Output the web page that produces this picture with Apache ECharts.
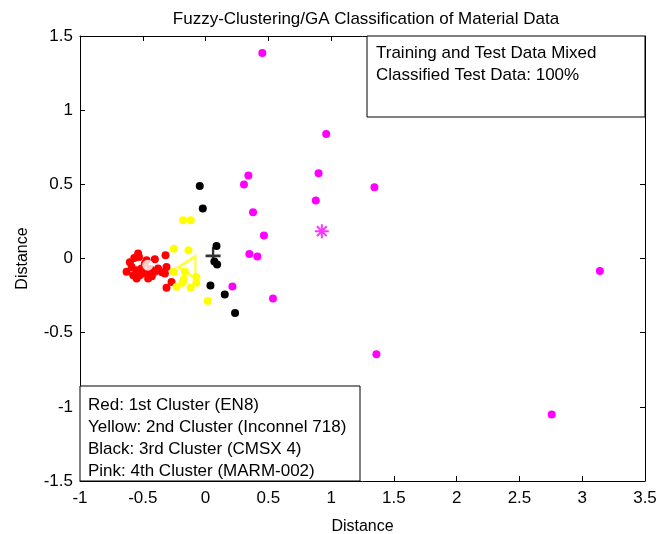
<!DOCTYPE html>
<html><head><meta charset="utf-8">
<script src="https://cdn.jsdelivr.net/npm/echarts@6/dist/echarts.min.js"></script>
<style>html,body{margin:0;padding:0;background:#fff}#c{width:659px;height:534px}</style>
</head><body><div id="c"></div>
<script>
var xTicks = [-1, -0.5, 0, 0.5, 1, 1.5, 2, 2.5, 3, 3.5];
var yTicks = [-1.5, -1, -0.5, 0, 0.5, 1, 1.5];
var redPoints = [
  [-0.537,0.034],[-0.568,0.004],[-0.470,-0.011],[-0.404,-0.005],[-0.319,0.022],
  [-0.629,-0.090],[-0.589,-0.057],[-0.576,-0.113],[-0.549,-0.135],[-0.510,-0.067],
  [-0.483,-0.034],[-0.457,-0.101],[-0.457,-0.135],[-0.404,-0.090],[-0.378,-0.067],
  [-0.348,-0.092],[-0.311,-0.057],[-0.324,-0.101],[-0.271,-0.158],[-0.311,-0.198],
  [-0.523,-0.113],[-0.428,-0.119],[-0.603,-0.025],[-0.55,-0.08],[-0.50,-0.10],
  [-0.44,-0.07],[-0.53,0.01]
];
var redCentre = [[-0.46,-0.045]];
var yellowPoints = [
  [-0.179,0.258],[-0.118,0.258],[-0.253,0.065],[-0.136,0.056],[-0.253,-0.090],
  [-0.165,-0.090],[-0.073,-0.124],[-0.073,-0.164],[-0.173,-0.142],[-0.184,-0.164],
  [-0.231,-0.191],[-0.118,-0.198],[0.017,-0.286]
];
var yellowCentre = [[-0.149,-0.059]];
var blackPoints = [
  [-0.046,0.488],[-0.022,0.337],[0.087,0.085],[0.092,-0.040],[0.07,-0.02],
  [0.039,-0.182],[0.153,-0.243],[0.235,-0.367]
];
var blackCentre = [[0.06,0.018]];
var pinkPoints = [
  [0.452,1.386],[0.961,0.840],[0.341,0.560],[0.306,0.499],[0.900,0.575],
  [1.345,0.481],[0.878,0.391],[0.378,0.312],[0.465,0.155],[0.349,0.031],
  [0.413,0.013],[0.214,-0.189],[0.537,-0.270],[3.141,-0.084],[2.757,-1.052],
  [1.361,-0.645]
];
var pinkCentre = [[0.926,0.184]];
var titleText = 'Fuzzy-Clustering/GA Classification of Material Data';
var infoLines = ['Training and Test Data Mixed', 'Classified Test Data: 100%'];
var legendLines = ['Red: 1st Cluster (EN8)', 'Yellow: 2nd Cluster (Inconnel 718)', 'Black: 3rd Cluster (CMSX 4)', 'Pink: 4th Cluster (MARM-002)'];

var FONT = 'Liberation Sans, Arial, sans-serif';
var chart = echarts.init(document.getElementById('c'), null, {renderer: 'canvas'});
var L = 80, R = 645, T = 36, B = 481;
function axisBase(extra) {
  return Object.assign({
    type: 'value',
    axisLine: {show: true, onZero: false, lineStyle: {color: '#000', width: 1}},
    axisTick: {show: true, inside: true, length: 5, lineStyle: {color: '#000'}},
    splitLine: {show: false},
    axisLabel: {color: '#000', fontSize: 16, fontFamily: FONT}
  }, extra);
}
var dot = function (name, data, color) {
  return {type: 'scatter', name: name, data: data, symbol: 'circle', symbolSize: 8,
    itemStyle: {color: color, opacity: 1}, z: 3};
};
chart.setOption({
  animation: false,
  backgroundColor: '#fff',
  title: {text: titleText, left: 361, top: 6, textAlign: 'center',
    textStyle: {fontSize: 17, fontWeight: 'normal', color: '#000', fontFamily: FONT}},
  grid: {left: L, right: 659 - R, top: T, bottom: 534 - B, containLabel: false, outerBoundsMode: 'none'},
  xAxis: [
    axisBase({min: xTicks[0], max: xTicks[xTicks.length - 1], interval: 0.5, position: 'bottom',
      name: 'Distance', nameLocation: 'middle', nameGap: 38,
      nameTextStyle: {color: '#000', fontSize: 16, fontFamily: FONT},
      axisLabel: {color: '#000', fontSize: 17, fontFamily: FONT, margin: 9}}),
    axisBase({min: xTicks[0], max: xTicks[xTicks.length - 1], interval: 0.5, position: 'top',
      axisLabel: {show: false}})
  ],
  yAxis: [
    axisBase({min: yTicks[0], max: yTicks[yTicks.length - 1], interval: 0.5, position: 'left',
      name: 'Distance', nameLocation: 'middle', nameGap: 49, nameRotate: 90,
      nameTextStyle: {color: '#000', fontSize: 16, fontFamily: FONT},
      axisLabel: {color: '#000', fontSize: 17, fontFamily: FONT, margin: 7}}),
    axisBase({min: yTicks[0], max: yTicks[yTicks.length - 1], interval: 0.5, position: 'right',
      axisLabel: {show: false}})
  ],
  series: [
    dot('red', redPoints, '#ff0000'),
    {type: 'scatter', data: redCentre, symbol: 'emptyCircle', symbolSize: 11,
      itemStyle: {color: 'rgba(0,0,0,0)', borderColor: '#ff0000', borderWidth: 2.5}, z: 4},
    dot('yellow', yellowPoints, '#ffff00'),
    {type: 'scatter', data: yellowCentre, symbol: 'path://M0,10 L16,0 L16,20 Z', symbolSize: [17, 22],
      itemStyle: {color: 'rgba(0,0,0,0)', borderColor: '#ffff00', borderWidth: 2.5}, z: 4},
    dot('black', blackPoints, '#000000'),
    {type: 'scatter', data: blackCentre, symbol: 'path://M10,0 L10,20 M0,10 L20,10', symbolSize: [15, 17],
      itemStyle: {color: 'rgba(0,0,0,0)', borderColor: '#000', borderWidth: 2.5}, z: 4},
    dot('pink', pinkPoints, '#ff00ff'),
    {type: 'scatter', data: pinkCentre, symbol: 'path://M10,0 L10,20 M0,10 L20,10 M3,3 L17,17 M3,17 L17,3', symbolSize: 14,
      itemStyle: {color: 'rgba(0,0,0,0)', borderColor: '#ff00ff', borderWidth: 2}, z: 4}
  ],
  graphic: [
    {type: 'rect', shape: {x: 367, y: T, width: R - 367, height: 117 - T},
      style: {fill: '#fff', stroke: '#000', lineWidth: 1}, z: 10},
    {type: 'text', x: 376, y: 42, z: 11,
      style: {text: infoLines.join('\n'), font: '17px ' + FONT, fill: '#000', lineHeight: 22}},
    {type: 'rect', shape: {x: L, y: 386, width: 360 - L, height: B - 386},
      style: {fill: '#fff', stroke: '#000', lineWidth: 1}, z: 10},
    {type: 'text', x: 88, y: 394, z: 11,
      style: {text: legendLines.join('\n'), font: '17px ' + FONT, fill: '#000', lineHeight: 22}}
  ]
});
</script></body></html>
